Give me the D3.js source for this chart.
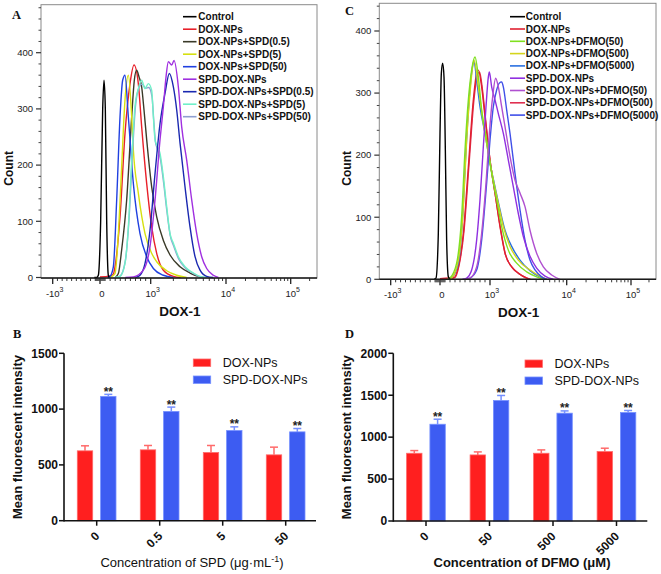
<!DOCTYPE html>
<html><head><meta charset="utf-8">
<script src="https://cdn.jsdelivr.net/npm/d3@7"></script>
<style>
body{margin:0;background:#fff;}
svg{display:block;font-family:"Liberation Sans",Arial,Helvetica,sans-serif;}
</style></head><body>
<svg id="c" width="661" height="574"></svg>
<script>
// ---------- Panel A data (DOX-1 value, count) ----------
const aNames = ["Control","DOX-NPs","DOX-NPs+SPD(0.5)","DOX-NPs+SPD(5)","DOX-NPs+SPD(50)","SPD-DOX-NPs","SPD-DOX-NPs+SPD(0.5)","SPD-DOX-NPs+SPD(5)","SPD-DOX-NPs+SPD(50)"];
const aColors = ["#000000","#e8202a","#3a3a28","#d6e010","#2040e0","#a030e0","#1a28b0","#70f0c8","#8f9fd0"];
const aControl = [[-120,0],[-70,0],[-35,4],[13,100],[53,300],[79,351],[105,300],[132,100],[164,4],[184,0]];
const aDox = [[0,1],[197,3],[263,6],[296,19],[395,108],[493,256],[592,345],[671,378],[756,345],[822,268],[921,167],[1031,90],[1201,43],[1473,13],[2000,2],[2500,0]];
const aDoxSpd05 = [[300,0],[362,7],[427,49],[526,138],[625,286],[677,351],[723,369],[770,357],[822,339],[868,298],[921,245],[1031,161],[1201,108],[1473,66],[1806,40],[2453,19],[3328,8],[4519,1],[5000,0]];
const aDoxSpd5 = [[200,0],[296,7],[362,78],[427,197],[493,316],[559,360],[625,286],[658,227],[756,150],[888,78],[1031,43],[1201,28],[1631,12],[2215,4],[3006,0]];
const aDoxSpd50 = [[150,0],[197,2],[263,19],[329,138],[395,286],[447,351],[493,360],[559,286],[658,167],[789,78],[921,37],[1085,16],[1473,4],[2000,0]];
const aSpd = [[500,0],[658,1],[855,13],[986,55],[1142,138],[1330,245],[1473,304],[1598,357],[1716,384],[1900,378],[2042,386],[2330,339],[2580,268],[3006,209],[3504,138],[4083,78],[4755,37],[5541,16],[6795,4],[7925,0]];
const aSpdSpd05 = [[700,0],[789,4],[888,25],[986,84],[1142,185],[1330,274],[1550,328],[1770,363],[2000,339],[2215,298],[2453,239],[2857,161],[3328,90],[3880,37],[4519,13],[5541,2],[6795,0]];
const aSpdSpd5 = [[300,0],[395,2],[493,25],[559,90],[625,209],[690,304],[756,336],[822,351],[888,336],[953,345],[1031,333],[1085,286],[1142,245],[1201,236],[1330,221],[1473,179],[1631,126],[1806,78],[2000,61],[2330,37],[2857,19],[3686,8],[4519,2],[5541,0]];
const aSpdSpd50 = [[300,0],[400,3],[500,30],[570,100],[640,220],[700,305],[770,338],[830,344],[900,337],[960,338],[1040,322],[1100,278],[1160,240],[1220,230],[1340,212],[1480,170],[1640,118],[1820,74],[2020,56],[2350,33],[2880,17],[3700,7],[4600,1],[5600,0]];
const aSeries = [aControl,aDox,aDoxSpd05,aDoxSpd5,aDoxSpd50,aSpd,aSpdSpd05,aSpdSpd5,aSpdSpd50];
const aOrder = [1,2,3,4,8,7,6,5,0];

// ---------- Panel C data ----------
const cNames = ["Control","DOX-NPs","DOX-NPs+DFMO(50)","DOX-NPs+DFMO(500)","DOX-NPs+DFMO(5000)","SPD-DOX-NPs","SPD-DOX-NPs+DFMO(50)","SPD-DOX-NPs+DFMO(500)","SPD-DOX-NPs+DFMO(5000)"];
const cColors = ["#000000","#e02030","#80e020","#d4d41c","#2a70e0","#9030e0","#b050d0","#e03050","#4050e8"];
const cControl = [[-120,0],[-81,2],[-34,74],[0,235],[27,332],[53,348],[80,326],[107,208],[133,63],[167,4],[200,0]];
const cDox = [[0,1],[267,2],[367,20],[467,74],[567,181],[667,289],[733,332],[767,337],[833,310],[900,262],[1000,192],[1162,139],[1350,85],[1569,42],[1917,20],[2340,10],[3006,2],[3323,0]];
const cDoxD50 = [[150,0],[200,2],[333,26],[433,101],[500,208],[567,289],[633,337],[700,358],[767,326],[833,273],[933,224],[1051,171],[1221,128],[1419,85],[1734,47],[2227,26],[3006,12],[4058,4],[4959,0]];
const cDoxD500 = [[180,0],[233,2],[367,31],[467,117],[533,224],[600,300],[653,343],[680,353],[767,310],[867,251],[967,203],[1105,160],[1284,122],[1492,85],[1823,53],[2340,31],[3323,15],[4484,5],[5478,0]];
const cDoxD5000 = [[180,0],[233,2],[367,26],[453,101],[520,208],[587,294],[640,337],[680,351],[733,321],[800,278],[900,235],[1000,187],[1162,149],[1350,112],[1569,79],[1917,53],[2461,31],[3323,14],[4484,4],[5478,0]];
const cSpd = [[450,0],[533,2],[633,15],[733,63],[800,128],[867,214],[920,278],[967,326],[987,334],[1051,310],[1162,289],[1284,267],[1492,235],[1734,192],[2015,149],[2340,106],[2720,69],[3323,37],[4058,18],[5213,5],[6694,0]];
const cSpdD50 = [[500,0],[600,2],[733,20],[833,74],[920,155],[987,235],[1083,294],[1185,324],[1284,310],[1419,278],[1569,246],[1823,198],[2117,160],[2461,139],[2860,117],[3323,79],[4058,42],[4959,20],[6368,7],[8177,0]];
const cSpdD500 = [[0,1],[300,3],[380,22],[480,78],[580,185],[680,290],[750,330],[790,334],[850,305],[915,255],[1010,188],[1175,135],[1370,82],[1590,40],[1950,19],[2380,9],[3050,2],[3400,0]];
const cSpdD5000 = [[500,0],[600,2],[733,15],[833,63],[933,155],[1000,224],[1105,278],[1221,305],[1323,316],[1419,318],[1492,310],[1649,273],[1823,235],[2117,171],[2461,112],[2860,63],[3323,31],[3862,15],[4716,4],[5478,0]];
const cSeries = [cControl,cDox,cDoxD50,cDoxD500,cDoxD5000,cSpd,cSpdD50,cSpdD500,cSpdD5000];
const cOrder = [7,1,4,3,2,8,5,6,0];

// ---------- Histogram axis ticks ----------
const histMajor = [-1000,0,1000,10000,100000];
const histMajorText = [["-10","3"],["0",""],["10","3"],["10","4"],["10","5"]];
const histMinor = [-900,-800,-700,-600,-500,-400,-300,-200,-100,-80,-60,-40,-20,20,40,60,80,100,200,300,400,500,600,700,800,900,
  2000,3000,4000,5000,6000,7000,8000,9000,20000,30000,40000,50000,60000,70000,80000,90000,200000];

// ---------- Panel B data ----------
const bCats = ["0","0.5","5","50"];
const bDox = [626,635,611,590];
const bDoxErr = [45,39,63,69];
const bSpd = [1114,979,808,796];
const bSpdErr = [18,39,33,30];
const bTicks = [0,500,1000,1500];

// ---------- Panel D data ----------
const dCats = ["0","50","500","5000"];
const dDox = [808,788,808,828];
const dDoxErr = [32,36,40,40];
const dSpd = [1154,1437,1286,1294];
const dSpdErr = [60,60,27,24];
const dTicks = [0,500,1000,1500,2000];

const barGroups = ["DOX-NPs","SPD-DOX-NPs"];
const barFill = ["#ff1f1f","#3d5cf2"];
const barEdge = ["#ff6a6a","#7590ff"];

const svg = d3.select("#c");

function histX(r){
  const lin = d3.scaleLinear().domain([-1250,-1000,0,1000]).range([r[0],r[1],r[2],r[3]]);
  const lg = d3.scaleLog().domain([1000,10000,100000,262144]).range([r[3],r[4],r[5],r[6]]);
  return v => (v <= 1000 ? lin(v) : lg(v));
}

function drawHist(p){
  const g = svg.append("g");
  const xs = histX(p.xr);
  const y = d3.scaleLinear().domain([0,400]).range([p.y0, p.y400]);
  const yMax = y.invert(p.top);
  const left = p.xr[0], right = p.xr[6];
  const clipId = "clip" + p.label;
  svg.append("clipPath").attr("id", clipId).append("rect")
    .attr("x", left).attr("y", p.top).attr("width", right-left).attr("height", p.bottom-p.top+1);
  g.append("rect").attr("x", left).attr("y", p.top).attr("width", right-left).attr("height", p.bottom-p.top)
    .attr("fill","none").attr("stroke","#8a8a8a").attr("stroke-width",1);
  for (let v = 0; v <= yMax; v += 20){
    const major = v % 100 === 0;
    g.append("line").attr("x1", left).attr("x2", left - (major?5:2.5))
      .attr("y1", y(v)).attr("y2", y(v)).attr("stroke","#333").attr("stroke-width", major?1.2:0.9);
    if (major && v <= 400){
      g.append("text").attr("x", left-8).attr("y", y(v)).attr("dy","0.35em")
        .attr("text-anchor","end").attr("font-size",9.5).attr("fill","#222").text(v);
    }
  }
  const line = d3.line().x(d => xs(d[0])).y(d => y(d[1])).curve(d3.curveMonotoneX);
  const cg = g.append("g").attr("clip-path","url(#"+clipId+")");
  p.order.forEach(i => {
    cg.append("path").attr("d", line(p.series[i])).attr("fill","none")
      .attr("stroke", p.colors[i]).attr("stroke-width",1.4).attr("stroke-linejoin","round");
  });
  g.append("line").attr("x1", left).attr("x2", right).attr("y1", p.bottom).attr("y2", p.bottom)
    .attr("stroke","#1a1a1a").attr("stroke-width",1.6);
  histMinor.forEach(v => {
    g.append("line").attr("x1", xs(v)).attr("x2", xs(v)).attr("y1", p.bottom).attr("y2", p.bottom+3)
      .attr("stroke","#222").attr("stroke-width",0.9);
  });
  histMajor.forEach((v,i) => {
    g.append("line").attr("x1", xs(v)).attr("x2", xs(v)).attr("y1", p.bottom).attr("y2", p.bottom+6)
      .attr("stroke","#222").attr("stroke-width",1.3);
    const t = g.append("text").attr("x", xs(v)+2).attr("y", p.bottom+18.5).attr("text-anchor","middle")
      .attr("font-size",9.5).attr("fill","#222");
    t.append("tspan").text(histMajorText[i][0]);
    if (histMajorText[i][1]) t.append("tspan").attr("dy",-4.5).attr("font-size",7).text(histMajorText[i][1]);
  });
  g.append("text").attr("x", (p.xr[0]+p.xr[6])/2+1).attr("y", p.bottom+38).attr("text-anchor","middle")
    .attr("font-size",13.5).attr("font-weight","bold").attr("fill","#111").text("DOX-1");
  g.append("text").attr("transform","translate("+(left-28)+","+((p.top+p.bottom)/2+27)+") rotate(-90)")
    .attr("text-anchor","middle").attr("font-size",12).attr("font-weight","bold").attr("fill","#111").text("Count");
  p.names.forEach((n,i) => {
    const yy = p.legY + i*p.legDy;
    g.append("line").attr("x1", p.legX0).attr("x2", p.legX1).attr("y1", yy).attr("y2", yy)
      .attr("stroke", p.colors[i]).attr("stroke-width",1.6);
    g.append("text").attr("x", p.legTX).attr("y", yy).attr("dy","0.35em").attr("font-size",10)
      .attr("font-weight","bold").attr("fill","#111").text(n);
  });
  g.append("text").attr("x", p.labX).attr("y", p.labY).attr("font-family",'"Liberation Serif","Times New Roman",serif')
    .attr("font-weight","bold").attr("font-size",12.5).attr("fill","#111").text(p.label);
}

drawHist({label:"A", labX:12, labY:18.5, xr:[41,52.7,100,150.7,226,290.7,317], top:4.7, bottom:278, y0:277.5, y400:52.7,
  series:aSeries, colors:aColors, names:aNames, order:aOrder, legX0:183, legX1:196.5, legTX:198.3, legY:16.7, legDy:12.5});
drawHist({label:"C", labX:345, labY:15, xr:[379.3,390.7,440,490,566.7,631,656], top:3.3, bottom:279.3, y0:279.3, y400:31,
  series:cSeries, colors:cColors, names:cNames, order:cOrder, legX0:510, legX1:525, legTX:525.8, legY:16.7, legDy:12.3});

function drawBars(p){
  const g = svg.append("g");
  const x = d3.scaleBand().domain(p.cats).range([p.x0, p.x1]).padding(0);
  const sub = d3.scaleBand().domain(barGroups).range([13.3, 52]).paddingInner(0.34);
  const y = d3.scaleLinear().domain([0, p.max]).range([p.y0, p.yTop]);
  const vals = [p.dox, p.spd], errs = [p.doxErr, p.spdErr];
  p.cats.forEach((c,ci) => {
    barGroups.forEach((gname,gi) => {
      const bx = x(c) + sub(gname), bw = sub.bandwidth();
      const v = vals[gi][ci], e = errs[gi][ci];
      const cx = bx + bw/2;
      g.append("line").attr("x1",cx).attr("x2",cx).attr("y1",y(v)).attr("y2",y(v+e))
        .attr("stroke",barEdge[gi]).attr("stroke-width",1.5);
      g.append("line").attr("x1",cx-4).attr("x2",cx+4).attr("y1",y(v+e)).attr("y2",y(v+e))
        .attr("stroke",barEdge[gi]).attr("stroke-width",1.5);
      g.append("rect").attr("x",bx).attr("y",y(v)).attr("width",bw).attr("height",y(0)-y(v))
        .attr("fill",barFill[gi]).attr("stroke",barEdge[gi]).attr("stroke-width",0.8);
      if (gi === 1){
        g.append("text").attr("x",cx).attr("y",y(v+e)+1.5).attr("text-anchor","middle")
          .attr("font-size",12).attr("font-weight","bold").attr("fill","#222").text("**");
      }
    });
  });
  g.append("line").attr("x1",p.x0).attr("x2",p.x0).attr("y1",p.y0+0.8).attr("y2",p.yTop)
    .attr("stroke","#111").attr("stroke-width",1.6);
  g.append("line").attr("x1",p.x0).attr("x2",p.x1).attr("y1",p.y0).attr("y2",p.y0)
    .attr("stroke","#111").attr("stroke-width",1.6);
  p.ticks.forEach(t => {
    g.append("line").attr("x1",p.x0).attr("x2",p.x0-5).attr("y1",y(t)).attr("y2",y(t))
      .attr("stroke","#111").attr("stroke-width",1.5);
    g.append("text").attr("x",p.x0-6).attr("y",y(t)).attr("dy","0.36em").attr("text-anchor","end")
      .attr("font-size",12).attr("font-weight","bold").attr("fill","#111").text(t);
  });
  p.cats.forEach(c => {
    const tx = x(c) + 32.7;
    g.append("line").attr("x1",tx).attr("x2",tx).attr("y1",p.y0).attr("y2",p.y0+5)
      .attr("stroke","#111").attr("stroke-width",1.5);
    g.append("text").attr("transform","translate("+(tx+0.5)+","+(p.y0+13)+") rotate(-45)")
      .attr("text-anchor","end").attr("dy","0.35em").attr("font-size",12).attr("font-weight","bold")
      .attr("fill","#111").text(c);
  });
  g.append("text").attr("transform","translate("+(p.x0-42)+","+((p.y0+p.yTop)/2)+") rotate(-90)")
    .attr("text-anchor","middle").attr("font-size",13).attr("font-weight","bold").attr("fill","#111")
    .text("Mean fluorescent intensity");
  const tt = g.append("text").attr("x",p.titleX).attr("y",567).attr("text-anchor","middle")
    .attr("font-size",13).attr("font-weight",p.titleBold?"bold":"normal").attr("fill","#111");
  p.title(tt);
  barGroups.forEach((n,i) => {
    const yy = p.legY + i*17;
    g.append("rect").attr("x",p.legX).attr("y",yy-3.7).attr("width",17.4).attr("height",7.4)
      .attr("fill",barFill[i]).attr("stroke",barEdge[i]).attr("stroke-width",0.8);
    g.append("text").attr("x",p.legX+29.4).attr("y",yy).attr("dy","0.36em").attr("font-size",12.5)
      .attr("fill","#111").text(n);
  });
  g.append("text").attr("x",p.labX).attr("y",p.labY).attr("font-family",'"Liberation Serif","Times New Roman",serif')
    .attr("font-weight","bold").attr("font-size",12.5).attr("fill","#111").text(p.label);
}

drawBars({label:"B", labX:13, labY:337.5, cats:bCats, dox:bDox, doxErr:bDoxErr, spd:bSpd, spdErr:bSpdErr,
  max:1500, ticks:bTicks, x0:64, x1:316, y0:520.7, yTop:353.3, legX:193.3, legY:362.7, titleX:192, titleBold:false,
  title: t => { t.append("tspan").text("Concentration of SPD (μg·mL"); t.append("tspan").attr("dy",-5).attr("font-size",9).text("-1");
                t.append("tspan").attr("dy",5).text(")"); }});
drawBars({label:"D", labX:345, labY:337.5, cats:dCats, dox:dDox, doxErr:dDoxErr, spd:dSpd, spdErr:dSpdErr,
  max:2000, ticks:dTicks, x0:393.3, x1:647.3, y0:521, yTop:353.3, legX:525, legY:363.7, titleX:522, titleBold:true,
  title: t => { t.text("Concentration of DFMO (μM)"); }});
</script>
</body></html>
